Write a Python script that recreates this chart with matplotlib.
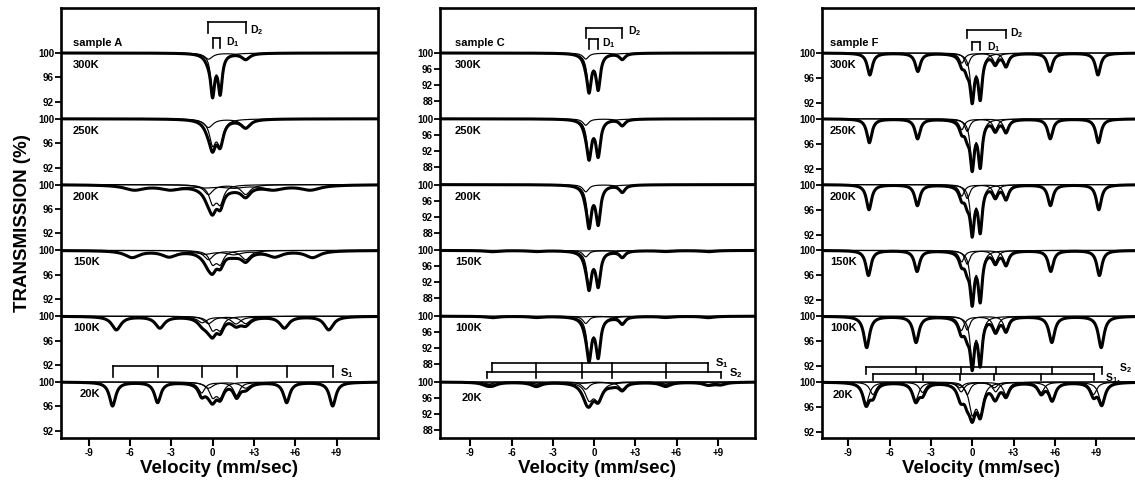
import numpy as np
import matplotlib.pyplot as plt
from matplotlib.transforms import blended_transform_factory

plt.rcParams['font.family'] = ['Liberation Sans', 'DejaVu Sans']
plt.rcParams['font.weight'] = 'bold'
plt.rcParams['mathtext.fontset'] = 'custom'
plt.rcParams['mathtext.bf'] = 'Liberation Sans:bold'
plt.rcParams['mathtext.rm'] = 'Liberation Sans:bold'
plt.rcParams['mathtext.default'] = 'bf'

temps = ['300K', '250K', '200K', '150K', '100K', '20K']
vel_ticks = [-9, -6, -3, 0, 3, 6, 9]
vel_labels = ['-9', '-6', '-3', '0', '+3', '+6', '+9']

# ---- sample A ----  (depths in %, widths in mm/s, one value per temperature)
a_d1_pos = [0.0, 0.55]
a_d1_depth = [6.2, 3.8, 2.8, 2.0, 2.0, 2.2]
a_d1_width = [0.35, 0.55, 0.6, 0.6, 0.6, 0.6]
a_d2_pos = [-0.3, 2.4]
a_d2_depth = [1.0, 1.4, 1.6, 1.5, 1.2, 1.0]
a_d2_width = [0.7, 0.8, 0.8, 0.8, 0.8, 0.8]
a_s1_pos = [-7.26, -3.99, -0.80, 1.74, 5.37, 8.71]
a_s1_rel = [1.0, 0.85, 0.45, 0.55, 0.85, 1.0]
a_s1_field = [1.0, 1.0, 0.80, 0.82, 0.965, 1.0]
a_s1_depth = [0.0, 0.0, 0.8, 1.1, 2.2, 3.9]
a_s1_width = [0.6, 0.6, 1.8, 1.3, 0.8, 0.55]
a_yticks = [100, 96, 92]

# ---- sample C ----
c_d1_pos = [-0.36, 0.30]
c_d1_depth = [8.6, 8.8, 9.3, 8.4, 9.6, 4.0]
c_d1_width = [0.38, 0.4, 0.4, 0.4, 0.4, 0.7]
c_d2_pos = [-0.6, 2.05]
c_d2_depth = [1.5, 1.6, 1.8, 1.6, 1.8, 1.8]
c_d2_width = [0.5, 0.5, 0.5, 0.5, 0.5, 0.6]
c_s1_pos = [-7.4, -4.2, -0.87, 1.3, 5.2, 8.3]
c_s2_pos = [-7.8, -4.2, -0.87, 1.3, 5.2, 9.2]
c_s_rel = [1.0, 0.8, 0.4, 0.4, 0.8, 1.0]
c_s1_depth = [0.0, 0.0, 0.0, 0.3, 0.35, 0.7]
c_s1_width = [1.0, 1.0, 1.0, 1.2, 1.0, 0.9]
c_s2_depth = [0.0, 0.0, 0.0, 0.0, 0.0, 0.6]
c_s2_width = [0.9, 0.9, 0.9, 0.9, 0.9, 0.9]
c_yticks = [100, 96, 92, 88]

# ---- sample F ----
f_d1_pos = [0.0, 0.58]
f_d1_depth = [6.8, 7.1, 7.0, 7.5, 7.2, 4.6]
f_d1_width = [0.35, 0.35, 0.35, 0.35, 0.35, 0.55]
f_d2_pos = [-0.36, 2.45]
f_d2_depth = [2.0, 2.0, 2.2, 2.2, 2.2, 2.0]
f_d2_width = [0.45, 0.45, 0.45, 0.45, 0.45, 0.5]
f_s1_pos = [-7.7, -4.1, -0.8, 1.7, 5.8, 9.4]
f_s2_pos = [-7.2, -3.6, -0.9, 1.6, 5.0, 8.8]
f_s_rel = [1.0, 0.83, 0.45, 0.45, 0.83, 1.0]
f_s1_field = [0.968, 0.972, 0.975, 0.98, 0.995, 1.0]
f_s1_depth = [3.5, 3.8, 4.0, 4.0, 5.0, 3.4]
f_s1_width = [0.45, 0.45, 0.45, 0.45, 0.5, 0.55]
f_s2_depth = [0.0, 0.0, 0.0, 0.0, 0.0, 2.0]
f_yticks = [100, 96, 92]


def lor(v, pos, depth, width):
    return depth / (1 + ((v - pos) / (width / 2)) ** 2)


def doublet(v, pos, depth, width):
    return lor(v, pos[0], depth, width) + lor(v, pos[1], depth, width)


def sextet(v, pos, rel, depth, width, field=1.0):
    c = np.mean(pos)
    out = np.zeros_like(v)
    for p, r in zip(pos, rel):
        out += lor(v, c + (p - c) * field, depth * r, width)
    return out


W, H = 1135, 488
STEP = 65.8  # px between spectra


def setup(left, right, xlim, ppp, yticks):
    ax = fig.add_axes([left / W, 1 - 438 / H, (right - left) / W, 430 / H])
    off = STEP / ppp
    ax.set_xlim(*xlim)
    ax.set_ylim(100 - (438 - 53) / ppp, 100 + 45 / ppp)
    ax.set_xticks(vel_ticks)
    ax.set_xticklabels(vel_labels)
    yt, yl = [], []
    for i in range(len(temps)):
        for t in yticks:
            yt.append(t - i * off)
            yl.append(str(t))
    ax.set_yticks(yt)
    ax.set_yticklabels(yl)
    ax.tick_params(axis='y', direction='out', length=4, width=1.3, labelsize=7, pad=1)
    ax.tick_params(axis='x', direction='out', length=6, width=1.5, labelsize=7, pad=1.5)
    for s in ax.spines.values():
        s.set_linewidth(1.9)
    ax.set_xlabel('Velocity (mm/sec)', fontsize=13.5, fontweight='bold', labelpad=1)
    return ax, off


def draw(ax, v, off, comps_list):
    for i, comps in enumerate(comps_list):
        y0 = -i * off
        for c in comps:
            if c.max() > 0.05:
                ax.plot(v, 100 - c + y0, color='black', lw=0.85)
        ax.plot(v, 100 - sum(comps) + y0, color='black', lw=2.2)


def bracket(ax, xs, y_top, y_leg, lw=1.2):
    ax.plot([xs[0], xs[-1]], [y_top, y_top], color='black', lw=lw)
    for x in xs:
        ax.plot([x, x], [y_top, y_leg], color='black', lw=lw)


def labels(ax, name, ppp, off, xf, xf20, dy, dy20):
    tr = blended_transform_factory(ax.transAxes, ax.transData)
    ax.text(xf, 100 + 10 / ppp, name, transform=tr, fontsize=8, va='center')
    for i, t in enumerate(temps):
        last = i == len(temps) - 1
        ax.text(xf20 if last else xf, 100 - i * off - (dy20 if last else dy) / ppp, t,
                transform=tr, fontsize=8, va='center')


fig = plt.figure(figsize=(11.35, 4.88), dpi=100)

# ---------- panel A ----------
ppp = 6.1
xlim = (-11.0, 12.0)
ax, off = setup(61, 378, xlim, ppp, a_yticks)
v = np.linspace(*xlim, 2000)
spec = []
for i in range(len(temps)):
    spec.append([doublet(v, a_d1_pos, a_d1_depth[i], a_d1_width[i]),
                 doublet(v, a_d2_pos, a_d2_depth[i], a_d2_width[i]),
                 sextet(v, a_s1_pos, a_s1_rel, a_s1_depth[i], a_s1_width[i], a_s1_field[i])])
draw(ax, v, off, spec)
bracket(ax, a_d2_pos, 100 + 31 / ppp, 100 + 20 / ppp)
bracket(ax, a_d1_pos, 100 + 15 / ppp, 100 + 5 / ppp)
ax.text(a_d2_pos[1] + 0.3, 100 + 23 / ppp, r'D$_2$', fontsize=7.5, va='center')
ax.text(a_d1_pos[1] + 0.4, 100 + 11 / ppp, r'D$_1$', fontsize=7.5, va='center')
b20 = 100 - 5 * off
bracket(ax, a_s1_pos, b20 + 16 / ppp, b20 + 5 / ppp)
ax.text(a_s1_pos[-1] + 0.5, b20 + 9 / ppp, r'S$_1$', fontsize=8, va='center')
labels(ax, 'sample A', ppp, off, 0.038, 0.06, 12, 12)
ax.set_ylabel('TRANSMISSION (%)', fontsize=13.5, fontweight='bold', labelpad=5)

# ---------- panel C ----------
ppp = 4.0
xlim = (-11.2, 11.7)
ax, off = setup(440, 755, xlim, ppp, c_yticks)
v = np.linspace(*xlim, 2000)
spec = []
for i in range(len(temps)):
    spec.append([doublet(v, c_d1_pos, c_d1_depth[i], c_d1_width[i]),
                 doublet(v, c_d2_pos, c_d2_depth[i], c_d2_width[i]),
                 sextet(v, c_s1_pos, c_s_rel, c_s1_depth[i], c_s1_width[i]),
                 sextet(v, c_s2_pos, c_s_rel, c_s2_depth[i], c_s2_width[i])])
draw(ax, v, off, spec)
bracket(ax, c_d2_pos, 100 + 25 / ppp, 100 + 15 / ppp)
bracket(ax, c_d1_pos, 100 + 14 / ppp, 100 + 4 / ppp)
ax.text(c_d2_pos[1] + 0.4, 100 + 22 / ppp, r'D$_2$', fontsize=7.5, va='center')
ax.text(c_d1_pos[1] + 0.25, 100 + 10 / ppp, r'D$_1$', fontsize=7.5, va='center')
b20 = 100 - 5 * off
bracket(ax, c_s1_pos, b20 + 19 / ppp, b20 + 10 / ppp)
bracket(ax, c_s2_pos, b20 + 10 / ppp, b20 + 4 / ppp)
ax.text(c_s1_pos[-1] + 0.5, b20 + 19 / ppp, r'S$_1$', fontsize=8, va='center')
ax.text(c_s2_pos[-1] + 0.6, b20 + 9 / ppp, r'S$_2$', fontsize=8, va='center')
labels(ax, 'sample C', ppp, off, 0.048, 0.07, 12, 16)

# ---------- panel F ----------
ppp = 6.25
xlim = (-10.9, 12.1)
ax, off = setup(822, 1139, xlim, ppp, f_yticks)
v = np.linspace(*xlim, 2000)
spec = []
for i in range(len(temps)):
    spec.append([doublet(v, f_d1_pos, f_d1_depth[i], f_d1_width[i]),
                 doublet(v, f_d2_pos, f_d2_depth[i], f_d2_width[i]),
                 sextet(v, f_s1_pos, f_s_rel, f_s1_depth[i], f_s1_width[i], f_s1_field[i]),
                 sextet(v, f_s2_pos, f_s_rel, f_s2_depth[i], f_s1_width[i])])
draw(ax, v, off, spec)
bracket(ax, f_d2_pos, 100 + 23 / ppp, 100 + 15 / ppp)
bracket(ax, f_d1_pos, 100 + 11 / ppp, 100 + 3 / ppp)
ax.text(f_d2_pos[1] + 0.3, 100 + 20 / ppp, r'D$_2$', fontsize=7.5, va='center')
ax.text(f_d1_pos[1] + 0.5, 100 + 6 / ppp, r'D$_1$', fontsize=7.5, va='center')
b20 = 100 - 5 * off
bracket(ax, f_s1_pos, b20 + 15 / ppp, b20 + 8 / ppp)
bracket(ax, f_s2_pos, b20 + 8 / ppp, b20 + 2 / ppp)
ax.text(f_s1_pos[-1] + 0.25, b20 + 4 / ppp, r'S$_1$,', fontsize=7.5, va='center')
ax.text(f_s1_pos[-1] + 1.25, b20 + 14 / ppp, r'S$_2$', fontsize=7.5, va='center')
labels(ax, 'sample F', ppp, off, 0.025, 0.035, 12, 13)

plt.savefig('out.png', dpi=100)
